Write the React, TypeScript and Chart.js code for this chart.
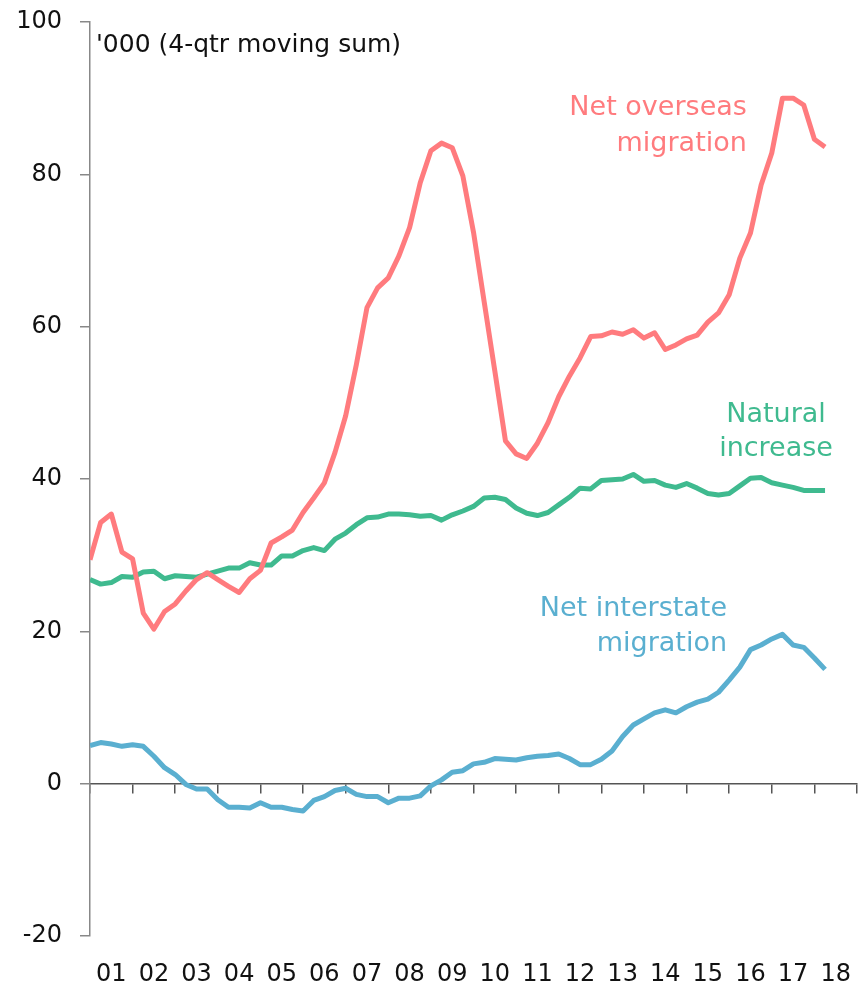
import { useEffect, useRef } from 'react';
import { Chart, registerables } from 'chart.js';

Chart.register(...registerables);

// Quarterly observations, first point at the start of 2001 (index 0), 4 per year
const yearLabels = ['01', '02', '03', '04', '05', '06', '07', '08', '09', '10', '11', '12', '13', '14', '15', '16', '17', '18'];

const netOverseas = [
  29.4, 34.3, 35.4, 30.4, 29.5, 22.4, 20.3, 22.6, 23.6, 25.3,
  26.8, 27.7, 26.8, 25.9, 25.1, 26.9, 28.0, 31.6, 32.4, 33.3,
  35.6, 37.5, 39.5, 43.5, 48.3, 55.0, 62.5, 65.1, 66.4, 69.3,
  73.0, 78.9, 83.1, 84.1, 83.5, 79.8, 72.4, 63.3, 54.2, 45.0,
  43.3, 42.7, 44.7, 47.4, 50.8, 53.5, 55.9, 58.7, 58.8, 59.3,
  59.0, 59.6, 58.5, 59.2, 57.0, 57.6, 58.4, 58.9, 60.6, 61.8,
  64.2, 69.0, 72.3, 78.6, 82.8, 90.0, 90.0, 89.1, 84.6, 83.6,
];

const naturalIncrease = [
  26.8, 26.2, 26.4, 27.2, 27.1, 27.8, 27.9, 26.9, 27.3, 27.2,
  27.1, 27.5, 27.9, 28.3, 28.3, 29.0, 28.7, 28.7, 29.9, 29.9,
  30.6, 31.0, 30.6, 32.1, 32.9, 34.0, 34.9, 35.0, 35.4, 35.4,
  35.3, 35.1, 35.2, 34.6, 35.3, 35.8, 36.4, 37.5, 37.6, 37.3,
  36.2, 35.5, 35.2, 35.6, 36.6, 37.6, 38.8, 38.7, 39.8, 39.9,
  40.0, 40.6, 39.7, 39.8, 39.2, 38.9, 39.4, 38.8, 38.1, 37.9,
  38.1, 39.1, 40.1, 40.2, 39.5, 39.2, 38.9, 38.5, 38.5, 38.5,
];

const netInterstate = [
  5.0, 5.4, 5.2, 4.9, 5.1, 4.9, 3.6, 2.1, 1.2, -0.1,
  -0.7, -0.7, -2.1, -3.1, -3.1, -3.2, -2.5, -3.1, -3.1, -3.4,
  -3.6, -2.2, -1.7, -0.9, -0.6, -1.4, -1.7, -1.7, -2.5, -1.9,
  -1.9, -1.6, -0.3, 0.5, 1.5, 1.7, 2.6, 2.8, 3.3, 3.2,
  3.1, 3.4, 3.6, 3.7, 3.9, 3.3, 2.5, 2.5, 3.2, 4.3,
  6.2, 7.7, 8.5, 9.3, 9.7, 9.3, 10.1, 10.7, 11.1, 12.0,
  13.6, 15.3, 17.6, 18.2, 19.0, 19.6, 18.2, 17.9, 16.5, 15.0,
];

const yMin = -20;
const yMax = 100;
const yStep = 20;

const RED = '#FF7B7E';
const GREEN = '#3FBA8F';
const BLUE = '#5AAFD0';
const FONT = '"DejaVu Sans", sans-serif';

// Text labels placed in data coordinates (x in quarters, y in '000)
const annotations = [
  { lines: ["'000 (4-qtr moving sum)"], color: '#111111', x: 0.56, y: 96.0, align: 'left', size: 25, lineHeight: 0 },
  { lines: ['Net overseas', 'migration'], color: RED, x: 61.66, y: 87.8, align: 'right', size: 27, lineHeight: 36 },
  { lines: ['Natural', 'increase'], color: GREEN, x: 64.4, y: 47.5, align: 'center', size: 27, lineHeight: 34.5 },
  { lines: ['Net interstate', 'migration'], color: BLUE, x: 59.8, y: 22.0, align: 'right', size: 27, lineHeight: 34.7 },
];

const toPoints = (arr: number[]) => arr.map((v, i) => ({ x: i, y: v }));

const textPlugin = {
  id: 'seriesText',
  afterDatasetsDraw(chart: any) {
    const { ctx } = chart;
    const xs = chart.scales.x;
    const ys = chart.scales.y;
    ctx.save();
    for (const a of annotations) {
      ctx.font = `${a.size}px ${FONT}`;
      ctx.fillStyle = a.color;
      ctx.textAlign = a.align;
      ctx.textBaseline = 'alphabetic';
      const px = xs.getPixelForValue(a.x);
      const py = ys.getPixelForValue(a.y);
      a.lines.forEach((t, k) => ctx.fillText(t, px, py + k * a.lineHeight));
    }
    ctx.restore();
  },
};

export default function App() {
  const canvasRef = useRef<HTMLCanvasElement | null>(null);

  useEffect(() => {
    if (!canvasRef.current) return;
    const lastQ = yearLabels.length * 4;
    const lineStyle = { borderWidth: 5, pointRadius: 0, tension: 0, fill: false, borderJoinStyle: 'round' as const };
    const chart = new Chart(canvasRef.current, {
      type: 'line',
      data: {
        datasets: [
          { label: 'Net overseas migration', data: toPoints(netOverseas), borderColor: RED, backgroundColor: RED, ...lineStyle },
          { label: 'Natural increase', data: toPoints(naturalIncrease), borderColor: GREEN, backgroundColor: GREEN, ...lineStyle },
          { label: 'Net interstate migration', data: toPoints(netInterstate), borderColor: BLUE, backgroundColor: BLUE, ...lineStyle },
        ],
      },
      options: {
        animation: false,
        responsive: false,
        devicePixelRatio: 1,
        layout: { padding: { top: 22, right: 1, bottom: 0, left: 0 } },
        plugins: { legend: { display: false }, tooltip: { enabled: false } },
        scales: {
          // axis line through zero with year tick marks
          x: {
            type: 'linear',
            position: { y: 0 } as any,
            min: 0,
            max: lastQ,
            ticks: { stepSize: 4, display: false },
            grid: { drawOnChartArea: false, tickLength: 9, color: '#555555', lineWidth: 1.5 },
            border: { color: '#555555', width: 1.5 },
          },
          // year labels along the bottom, centred in each year
          x2: {
            type: 'linear',
            axis: 'x',
            position: 'bottom',
            min: 0,
            max: lastQ,
            afterFit: (s: any) => {
              s.height = 59;
              s.paddingLeft = 0;
              s.paddingRight = 0;
            },
            grid: { display: false },
            border: { display: false },
            ticks: {
              stepSize: 2,
              autoSkip: false,
              maxRotation: 0,
              padding: 16,
              color: '#111111',
              font: { family: FONT, size: 24 },
              callback: (v: any) => {
                const n = Number(v);
                return n % 4 === 2 ? yearLabels[(n - 2) / 4] : '';
              },
            },
          },
          y: {
            type: 'linear',
            min: yMin,
            max: yMax,
            afterFit: (s: any) => {
              s.width = 90;
              s.paddingTop = 0;
              s.paddingBottom = 0;
            },
            ticks: {
              stepSize: yStep,
              padding: 18,
              color: '#111111',
              font: { family: FONT, size: 24 },
            },
            grid: { drawOnChartArea: false, tickLength: 10, color: '#888888', lineWidth: 1.5 },
            border: { color: '#888888', width: 1.5 },
          },
        },
      },
      plugins: [textPlugin],
    });
    return () => chart.destroy();
  }, []);

  return (
    <div style={{ position: 'absolute', left: 0, top: 0, width: 858, height: 995, background: '#ffffff' }}>
      <canvas ref={canvasRef} width={858} height={995} />
    </div>
  );
}
